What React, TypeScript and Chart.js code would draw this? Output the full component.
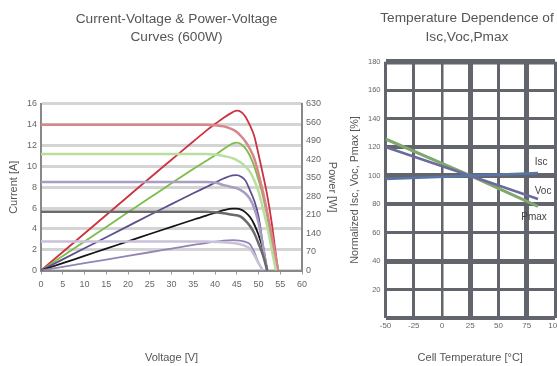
import React, { useEffect, useRef } from "react";
import { Chart, registerables } from "chart.js";

Chart.register(...registerables);

const FONT = "'Liberation Sans', Arial, Helvetica, sans-serif";

// ---------- Left chart data ----------
const leftTitle = ["Current-Voltage & Power-Voltage", "Curves (600W)"];
const voltage = [0, 5, 10, 15, 20, 25, 30, 35, 38, 40, 42, 44, 45, 46, 47, 48, 49, 50, 51, 52, 53, 54, 54.5];

const currentRed = [14, 14, 14, 14, 14, 14, 14, 14, 14, 13.95, 13.85, 13.55, 13.3, 12.9, 12.4, 11.7, 10.8, 9.3, 7.6, 5.6, 3.5, 1.2, 0];
const powerRed = [0, 70, 140, 210, 280, 350, 419, 488, 529, 554, 578, 598, 605, 600, 582, 550, 510, 440, 365, 285, 185, 60, 0];

const currentGreen = [11.2, 11.2, 11.2, 11.2, 11.2, 11.2, 11.2, 11.2, 11.2, 11.15, 11.0, 10.8, 10.6, 10.35, 10.0, 9.5, 8.7, 7.6, 6.0, 4.2, 2.1, 0, null];
const powerGreen = [0, 55, 110, 165, 220, 275, 330, 384, 415, 436, 460, 480, 484, 478, 462, 435, 395, 342, 282, 205, 105, 0, null];

const currentPurple = [8.5, 8.5, 8.5, 8.5, 8.5, 8.5, 8.5, 8.5, 8.5, 8.45, 8.2, 8.0, 7.9, 7.7, 7.4, 6.9, 6.0, 4.6, 2.4, 0, null, null, null];
const powerPurple = [0, 42, 84, 126, 168, 210, 251, 292, 316, 332, 348, 360, 361, 355, 340, 305, 265, 205, 100, 0, null, null, null];

const currentBlack = [5.65, 5.65, 5.65, 5.65, 5.65, 5.65, 5.65, 5.65, 5.65, 5.6, 5.5, 5.35, 5.3, 5.15, 4.8, 4.3, 3.6, 2.6, 1.5, 0, null, null, null];
const powerBlack = [0, 28, 55, 83, 110, 138, 165, 192, 208, 218, 228, 234, 234, 230, 220, 203, 175, 135, 82, 0, null, null, null];

const currentLilac = [2.78, 2.78, 2.78, 2.78, 2.78, 2.78, 2.78, 2.78, 2.78, 2.75, 2.72, 2.65, 2.6, 2.5, 2.35, 2.1, 1.5, 0.7, 0, null, null, null, null];
const powerLilac = [0, 14, 28, 41, 55, 69, 83, 97, 104, 109, 113, 115, 114, 112, 108, 100, 70, 30, 0, null, null, null, null];

// ---------- Right chart data ----------
const rightTitle = ["Temperature Dependence of", "Isc,Voc,Pmax"];
const temperature = [-50, 25, 85];
const iscPct = [97.7, 100, 101.9];
const vocPct = [120.2, 100, 83.6];
const pmaxPct = [125.8, 100, 78.4];
const seriesNames = ["Isc", "Voc", "Pmax"];

const toPoints = (xs: number[], ys: (number | null)[]) =>
  xs.map((x, i) => ({ x, y: ys[i] })).filter((p) => p.y !== null && p.y !== undefined) as { x: number; y: number }[];

const TITLE_FONT = { family: FONT, size: 13.7, weight: "normal", lineHeight: 1.36 };

function LeftChart() {
  const ref = useRef<HTMLCanvasElement | null>(null);
  useEffect(() => {
    if (!ref.current) return;
    const iv = (data: (number | null)[], color: string) => ({
      data: toPoints(voltage, data),
      yAxisID: "y",
      borderColor: color,
      borderWidth: 2.5,
      pointRadius: 0,
      cubicInterpolationMode: "monotone" as const,
      fill: false,
    });
    const pv = (data: (number | null)[], color: string) => ({
      data: toPoints(voltage, data),
      yAxisID: "y1",
      borderColor: color,
      borderWidth: 1.8,
      pointRadius: 0,
      cubicInterpolationMode: "monotone" as const,
      fill: false,
    });
    const tickFont = { family: FONT, size: 9 };
    const axisTitleFont = { family: FONT, size: 11 };
    const chart = new Chart(ref.current, {
      type: "line",
      data: {
        datasets: [
          iv(currentLilac, "#c9c1da"),
          iv(currentBlack, "#6a6a6a"),
          iv(currentPurple, "#a89dc2"),
          iv(currentGreen, "#b9de9e"),
          iv(currentRed, "#d8858b"),
          pv(powerLilac, "#9284b6"),
          pv(powerBlack, "#141414"),
          pv(powerPurple, "#5f4f8c"),
          pv(powerGreen, "#7cbd4a"),
          pv(powerRed, "#cc3340"),
        ],
      },
      options: {
        responsive: false,
        animation: false,
        devicePixelRatio: 1,
        layout: { padding: 0 },
        plugins: {
          legend: { display: false },
          tooltip: { enabled: false },
          title: {
            display: true,
            text: leftTitle,
            color: "#555555",
            font: TITLE_FONT,
            padding: { top: 9.5, bottom: 57.2 },
          },
        },
        scales: {
          x: {
            type: "linear",
            min: 0,
            max: 60,
            ticks: { stepSize: 5, color: "#666666", font: tickFont, padding: 5, maxRotation: 0 },
            grid: { drawOnChartArea: false, drawTicks: true, tickLength: 4, color: "#9a9a9a", lineWidth: 1 },
            border: { color: "#888888", width: 2 },
            title: { display: true, text: "Voltage [V]", color: "#555555", font: axisTitleFont, padding: { top: 0, bottom: 1.5 } },
            afterFit: (s: any) => {
              s.height = 95.5;
            },
          },
          y: {
            type: "linear",
            position: "left",
            min: 0,
            max: 16,
            ticks: { stepSize: 2, color: "#666666", font: tickFont, padding: 4 },
            grid: { color: "#d4d4d4", lineWidth: 3, drawTicks: false },
            border: { color: "#888888", width: 2 },
            title: { display: true, text: "Current [A]", color: "#555555", font: axisTitleFont, padding: { top: 7, bottom: 0 } },
            afterFit: (s: any) => {
              s.width = 41;
            },
          },
          y1: {
            type: "linear",
            position: "right",
            min: 0,
            max: 630,
            ticks: { stepSize: 70, color: "#666666", font: tickFont, padding: 4 },
            grid: { drawOnChartArea: false, drawTicks: false },
            border: { color: "#888888", width: 2 },
            title: { display: true, text: "Power [W]", color: "#555555", font: axisTitleFont, padding: { top: 14.5, bottom: 0 } },
            afterFit: (s: any) => {
              s.width = 51;
            },
          },
        },
      } as any,
    });
    return () => chart.destroy();
  }, []);
  return <canvas ref={ref} width={353} height={366} style={{ position: "absolute", left: 0, top: 0 }} />;
}

function RightChart() {
  const ref = useRef<HTMLCanvasElement | null>(null);
  useEffect(() => {
    if (!ref.current) return;
    const labelOffsets = [
      { dx: 3, dy: -11 },
      { dx: 5, dy: -8 },
      { dx: -4, dy: 11 },
    ];
    const endLabels = {
      id: "endLabels",
      afterDatasetsDraw(chart: any) {
        const ctx = chart.ctx;
        ctx.save();
        ctx.font = `10px ${FONT}`;
        ctx.fillStyle = "#444444";
        ctx.textAlign = "center";
        ctx.textBaseline = "middle";
        chart.data.datasets.forEach((ds: any, i: number) => {
          const meta = chart.getDatasetMeta(i);
          const last = meta.data[meta.data.length - 1];
          if (!last) return;
          const o = labelOffsets[i];
          ctx.fillText(seriesNames[i], last.x + o.dx, last.y + o.dy);
        });
        ctx.restore();
      },
    };
    const hWidths = [4, 3, 5, 3, 4, 5, 4, 3, 3, 5.5];
    const vWidths = [3, 3, 2.5, 5, 3, 5, 3];
    const gridColor = "#62656b";
    const line = (data: number[], color: string, w: number) => ({
      data: toPoints(temperature, data),
      borderColor: color,
      borderWidth: w,
      pointRadius: 0,
      tension: 0,
      fill: false,
    });
    const chart = new Chart(ref.current, {
      type: "line",
      data: {
        datasets: [
          line(iscPct, "#5877a8", 2.5),
          line(vocPct, "#6c6a9c", 2.5),
          line(pmaxPct, "#7fa86e", 3),
        ],
      },
      plugins: [endLabels],
      options: {
        responsive: false,
        animation: false,
        devicePixelRatio: 1,
        layout: { padding: 0 },
        plugins: {
          legend: { display: false },
          tooltip: { enabled: false },
          title: {
            display: true,
            text: rightTitle,
            color: "#555555",
            font: TITLE_FONT,
            padding: { top: 9.3, bottom: 15.3 },
          },
        },
        scales: {
          x: {
            type: "linear",
            min: -50,
            max: 100,
            ticks: { stepSize: 25, color: "#666666", font: { family: FONT, size: 8 }, padding: 3, maxRotation: 0 },
            grid: { color: gridColor, lineWidth: (c: any) => vWidths[c.index] ?? 3, drawTicks: false },
            border: { display: false },
            title: { display: true, text: "Cell Temperature [°C]", color: "#555555", font: { family: FONT, size: 11 }, padding: { top: 0, bottom: 1.5 } },
            afterFit: (s: any) => {
              s.height = 48;
            },
          },
          y: {
            type: "linear",
            min: 0,
            max: 180,
            ticks: {
              stepSize: 20,
              color: "#666666",
              font: { family: FONT, size: 7.5 },
              padding: 5,
              callback: (v: any) => (v === 0 ? "" : String(v)),
            },
            grid: { color: gridColor, lineWidth: (c: any) => hWidths[c.index] ?? 3, drawTicks: false },
            border: { display: false },
            title: {
              display: true,
              text: "Normalized Isc, Voc, Pmax [%]",
              color: "#555555",
              font: { family: FONT, size: 10.8 },
              padding: { top: 14, bottom: 0 },
            },
            afterFit: (s: any) => {
              s.width = 50.5;
            },
          },
          spacer: {
            type: "linear",
            position: "right",
            min: 0,
            max: 1,
            ticks: { display: false },
            grid: { display: false, drawOnChartArea: false },
            border: { display: false },
            afterFit: (s: any) => {
              s.width = 44;
            },
          },
        },
      } as any,
    });
    return () => chart.destroy();
  }, []);
  return <canvas ref={ref} width={264} height={366} style={{ position: "absolute", left: 335, top: 0 }} />;
}

export default function App() {
  return (
    <div
      style={{
        position: "fixed",
        left: 0,
        top: 0,
        width: 557,
        height: 366,
        overflow: "hidden",
        background: "#ffffff",
      }}
    >
      <LeftChart />
      <RightChart />
    </div>
  );
}
